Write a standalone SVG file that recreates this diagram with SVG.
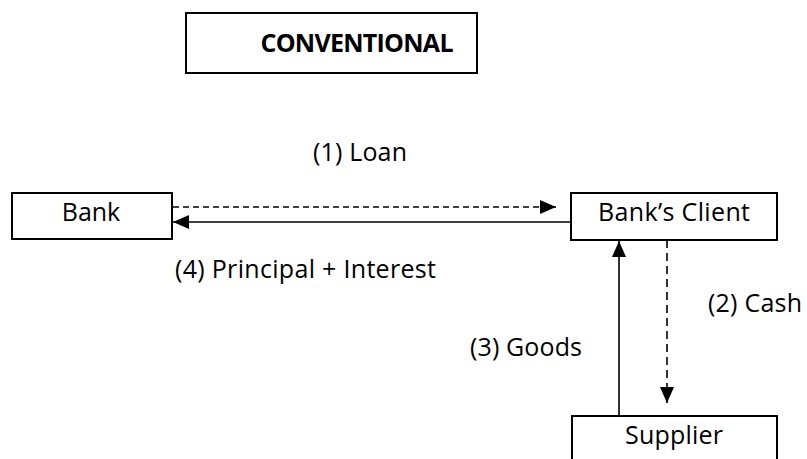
<svg xmlns="http://www.w3.org/2000/svg" width="807" height="459" viewBox="0 0 807 459">
<defs>
<style>
.box{fill:#fff;stroke:#000;stroke-width:2}
.t{font-family:"Open Sans","Noto Sans","DejaVu Sans",sans-serif;font-size:25px;fill:#000}
.tb{font-weight:bold}
.ln{stroke:#000;stroke-width:1.6;fill:none}
.dh{stroke-dasharray:6 4}
.dv{stroke-dasharray:8 5}
</style>
<marker id="ah" markerUnits="userSpaceOnUse" markerWidth="16" markerHeight="16" viewBox="0 0 16 16" refX="16" refY="8" orient="auto">
<path d="M0,1 L16,8 L0,15 Z" fill="#000"/>
</marker>
</defs>
<rect width="807" height="459" fill="#fff"/>
<g id="title">
<rect class="box" x="186" y="13" width="291" height="60"/>
<text class="t tb" x="357" y="52" text-anchor="middle" textLength="193">CONVENTIONAL</text>
</g>
<g id="bank">
<rect class="box" x="12" y="193" width="160" height="46"/>
<text class="t" x="91" y="221" text-anchor="middle">Bank</text>
</g>
<g id="client">
<rect class="box" x="571" y="193" width="206" height="47"/>
<text class="t" x="674" y="221" text-anchor="middle" textLength="152">Bank’s Client</text>
</g>
<g id="supplier">
<rect class="box" x="572" y="416" width="205" height="60"/>
<text class="t" x="674" y="444" text-anchor="middle" textLength="98">Supplier</text>
</g>
<g id="connectors">
<line class="ln dh" x1="173" y1="207" x2="556" y2="207" marker-end="url(#ah)"/>
<line class="ln" x1="571" y1="222" x2="173" y2="222" marker-end="url(#ah)"/>
<line class="ln dv" x1="667" y1="240" x2="667" y2="403" marker-end="url(#ah)"/>
<line class="ln" x1="619" y1="416" x2="619" y2="241" marker-end="url(#ah)"/>
</g>
<g id="labels">
<text class="t" x="313" y="161" textLength="94">(1) Loan</text>
<text class="t" x="175" y="278" textLength="261">(4) Principal + Interest</text>
<text class="t" x="708" y="312" textLength="94">(2) Cash</text>
<text class="t" x="470" y="356" textLength="112">(3) Goods</text>
</g>
</svg>
